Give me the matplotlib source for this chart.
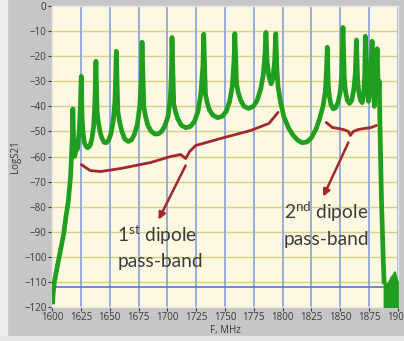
import matplotlib.pyplot as plt
from matplotlib.patches import Rectangle

plt.rcParams['mathtext.fontset'] = 'custom'
plt.rcParams['mathtext.rm'] = 'Lato'

# S21 trace (MHz, dB)
freq = [1600.5, 1601, 1602, 1604, 1607, 1610, 1612, 1614, 1616, 1617, 1617.5, 1618,
        1618.7, 1619.5, 1620.5, 1622, 1623.5, 1624.5, 1625.3,
        1626, 1627, 1628, 1629.5, 1631, 1633, 1634.5, 1636, 1637, 1638,
        1639, 1640, 1641.5, 1643, 1645, 1647, 1649, 1651, 1653, 1654.5, 1655.7,
        1657, 1658.5, 1660.5, 1663, 1666, 1669, 1671.5, 1674, 1676, 1677.3, 1678,
        1679.5, 1681, 1683, 1686, 1689, 1692, 1695, 1698, 1700.5, 1702.5, 1703.5, 1704,
        1705.5, 1707, 1709, 1712, 1716, 1720, 1723.5, 1726.5, 1729, 1730.8, 1731.5,
        1733, 1734.5, 1736.5, 1739.5, 1743.5, 1747.5, 1751, 1754, 1756.3, 1757.8, 1758.5,
        1760, 1761.5, 1763.5, 1766.5, 1770.5, 1774.5, 1778, 1781, 1783.3, 1784.8, 1785.5,
        1786.5, 1788, 1790, 1791.5, 1793, 1794,
        1795, 1796, 1798, 1801, 1805, 1809, 1813, 1817, 1821, 1825, 1829, 1832, 1835, 1837, 1838, 1838.7,
        1839.5, 1840.5, 1842, 1844, 1846, 1848, 1850, 1851.3, 1852.3,
        1853.5, 1854.5, 1856, 1858, 1860, 1861.8, 1863, 1864,
        1865, 1866, 1867.5, 1869, 1870.3, 1871.2, 1871.7,
        1873, 1874.5, 1875.5, 1876.5, 1877.6,
        1878.5, 1879.5, 1880.5, 1882,
        1883, 1883.8, 1884.3, 1885, 1885.7, 1886.5, 1887.3, 1888]
s21 = [-118, -114, -110, -105, -98, -91, -84, -78, -68, -58, -52, -41,
       -55, -60, -58, -57, -50, -40, -28,
       -45, -51, -54.5, -56, -56.5, -55.5, -53, -48, -40, -22,
       -42, -46, -50, -52.5, -54.3, -54.5, -53.5, -51, -46, -38, -18,
       -42, -46, -50, -53, -54, -53.3, -51, -47, -40, -30, -14.4,
       -40, -44, -47.5, -50, -51, -51, -50, -47.5, -44, -37, -27, -12.5,
       -39, -42, -45, -47.5, -48.5, -48, -46, -42, -35, -24, -11.2,
       -35, -38.5, -41.5, -43.5, -44.5, -44, -42, -38, -32, -22, -11,
       -31, -34.5, -37.5, -40, -40.8, -40, -37.5, -33, -27, -18, -10.5,
       -22, -28, -31, -29, -22, -11,
       -25, -32, -38, -44, -48.5, -51.5, -53.5, -54.5, -54.2, -52.5, -49, -45, -40, -34, -26, -16.4,
       -31, -36, -39.5, -41, -40.5, -38.5, -34, -27, -8.5,
       -29, -34, -37.5, -38.8, -37.5, -33, -27, -13.5,
       -29, -34, -37.5, -38.5, -35, -27, -12,
       -30, -38, -34, -24, -14,
       -30, -40, -30, -17,
       -35, -30, -45, -60, -77, -90, -102, -110]

# noise floor above the band
floor_f = [1888, 1889, 1890, 1892, 1894, 1896, 1897, 1898, 1899.5]
floor_db = [-110, -112, -111, -110, -108, -107, -106, -108, -110]

marker_db = -112

# hand drawn braces and arrows
brace1_f = [1625.3, 1633.1, 1641.8, 1659.2, 1685.4, 1702.8, 1711.5, 1715.8,
            1719.3, 1724.5, 1746.3, 1772.4, 1788.1, 1796]
brace1_db = [-63.2, -65.6, -66, -64.8, -62.4, -60, -59.2, -60.8,
             -58, -55.6, -52.8, -49.6, -46.8, -42.4]
brace2_f = [1837.8, 1843, 1852.6, 1857, 1858.7, 1861.3, 1865.7, 1877, 1881.3]
brace2_db = [-46.4, -48.4, -49.2, -50, -51.6, -50, -49.2, -48.4, -47.6]
arrow1 = [(1715.8, -63.6), (1692.3, -85.2)]
arrow2 = [(1857, -54.4), (1835.2, -76)]

fig = plt.figure(figsize=(4.04, 3.41), dpi=100, facecolor='#c6c6c6')
fig.patches.append(Rectangle((0, 0), 0.018, 1, transform=fig.transFigure,
                             color='#eeeeee', zorder=0))
fig.patches.append(Rectangle((0, 0), 1, 0.015, transform=fig.transFigure,
                             color='#e4e4e4', zorder=0))
ax = fig.add_axes([0.129, 0.10, 0.856, 0.882])
ax.set_facecolor('#fdf8e2')

ax.set_xlim(1600, 1900)
ax.set_ylim(-120, 0)
ax.set_xticks(range(1600, 1901, 25))
ax.set_yticks(range(-120, 1, 10))
ax.set_xticklabels([str(v) for v in range(1600, 1901, 25)])
for v in range(-110, 0, 10):
    ax.axhline(v, color='#d6cf86', lw=1, zorder=1)
for v in range(1600, 1901, 25):
    ax.axvline(v, color='#8ea8d8', lw=1.3, zorder=1)
ax.axhline(marker_db, color='#5a78c4', lw=1.2, zorder=1)

ax.plot(freq, s21, color='#1f9e1f', lw=3.4, solid_joinstyle='round', zorder=3)
ax.fill_between(floor_f, floor_db, -120, color='#1f9e1f', lw=1.5,
                edgecolor='#1f9e1f', zorder=3)

red = '#a3282e'
ax.plot(brace1_f, brace1_db, color=red, lw=2, solid_capstyle='round', zorder=4)
ax.plot(brace2_f, brace2_db, color=red, lw=2, solid_capstyle='round', zorder=4)
for start, tip in (arrow1, arrow2):
    ax.annotate('', xy=tip, xytext=start,
                arrowprops=dict(arrowstyle='-|>', color=red, lw=1.8,
                                mutation_scale=10, shrinkA=0, shrinkB=0),
                zorder=4)

txt = dict(fontsize=13.8, family='Lato', color='#3c3c3c', zorder=5,
           va='baseline')
ax.text(1656.5, -94, '1$^{\\mathrm{st}}$ dipole', **txt)
ax.text(1656.5, -104, 'pass-band', **txt)
ax.text(1801, -85, '2$^{\\mathrm{nd}}$ dipole', **txt)
ax.text(1801, -95.5, 'pass-band', **txt)

ax.tick_params(labelsize=7, colors='#3a3a3a', length=3, width=0.8, pad=1)
for lab in ax.get_xticklabels() + ax.get_yticklabels():
    lab.set_family('Open Sans')
for sp in ax.spines.values():
    sp.set_color('#e8e8e8')
    sp.set_linewidth(1)

ax.set_xlabel('F, MHz', fontsize=7, family='Open Sans', color='#3a3a3a', labelpad=1)
ax.set_ylabel('LogS21', fontsize=7, family='Open Sans', color='#3a3a3a', labelpad=2)

fig.savefig('out.png', dpi=100, facecolor=fig.get_facecolor())
